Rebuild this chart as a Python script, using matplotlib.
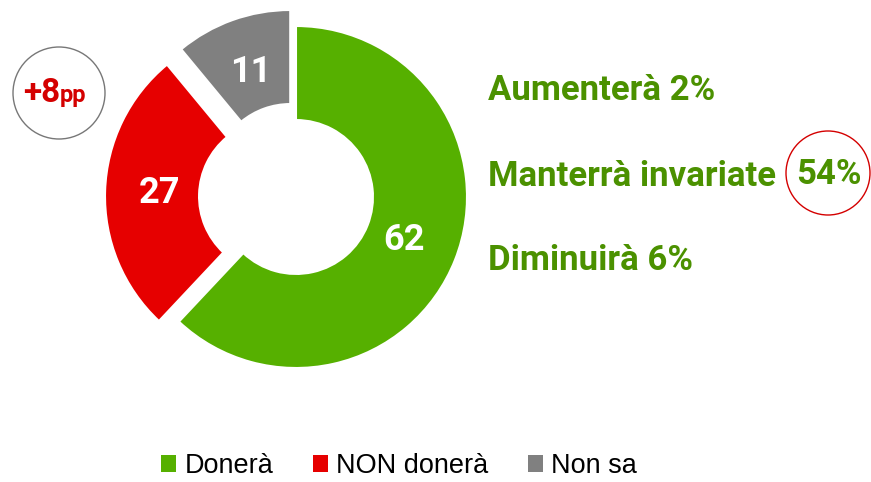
import matplotlib

matplotlib.use("Agg")
import matplotlib.pyplot as plt
from matplotlib.patches import Circle, Patch

# data
categories = ["Donerà", "NON donerà", "Non sa"]
shares = [62, 27, 11]
colors = ["#56b000", "#e60000", "#808080"]

detail_labels = ["Aumenterà 2%", "Manterrà invariate", "Diminuirà 6%"]
highlight_value = "54%"
delta_main = "+8"
delta_unit = "pp"

GREEN_TEXT = "#4b9100"
RED_TEXT = "#d40000"
FONT = "Roboto"

W, H = 871, 482
fig = plt.figure(figsize=(W / 100, H / 100), dpi=100)
ax = fig.add_axes([0, 0, 1, 1])

# pixel-like coordinates, y pointing up; explode is in data units here
cx, cy, R = 296, H - 197, 171
wedges, _, autotexts = ax.pie(
    shares,
    colors=colors,
    explode=[0, 20, 17],
    startangle=90,
    counterclock=False,
    center=(cx, cy),
    radius=R,
    autopct=lambda p: f"{p:.0f}",
    pctdistance=0.68,
    wedgeprops=dict(width=R * 0.55, edgecolor="white", linewidth=1.5),
    textprops=dict(color="white", fontsize=26, fontweight="bold", family=FONT),
)
for t in autotexts:
    t.set_va("center")

ax.set_xlim(0, W)
ax.set_ylim(0, H)
ax.set_aspect("equal")
ax.axis("off")

# +8pp bubble
ax.add_patch(Circle((59, H - 93), 46, fill=False, edgecolor="#777777", linewidth=1.0))
ax.text(60, H - 102, delta_main, ha="right", va="baseline", fontsize=24,
        fontweight="bold", color=RED_TEXT, family=FONT)
ax.text(60, H - 102, delta_unit, ha="left", va="baseline", fontsize=17,
        fontweight="bold", color=RED_TEXT, family=FONT)

# breakdown on the right
ys = [90, 177, 260]
for label, y in zip(detail_labels, ys):
    ax.text(488, H - y, label, ha="left", va="center", fontsize=25,
            fontweight="bold", color=GREEN_TEXT, family=FONT)
ax.text(829, H - 175, highlight_value, ha="center", va="center", fontsize=25,
        fontweight="bold", color=GREEN_TEXT, family=FONT)
ax.add_patch(Circle((828, H - 173), 42, fill=False, edgecolor="#d40000", linewidth=1.0))

handles = [Patch(facecolor=c, edgecolor="none") for c in colors]
fig.legend(
    handles,
    categories,
    loc="center",
    bbox_to_anchor=(399 / W, 1 - 466 / H),
    ncols=3,
    frameon=False,
    prop=dict(family="Liberation Sans", size=19.5),
    handlelength=0.56,
    handleheight=0.56,
    handletextpad=0.3,
    columnspacing=1.45,
    borderpad=0.2,
)

fig.savefig("out.png", dpi=100)
